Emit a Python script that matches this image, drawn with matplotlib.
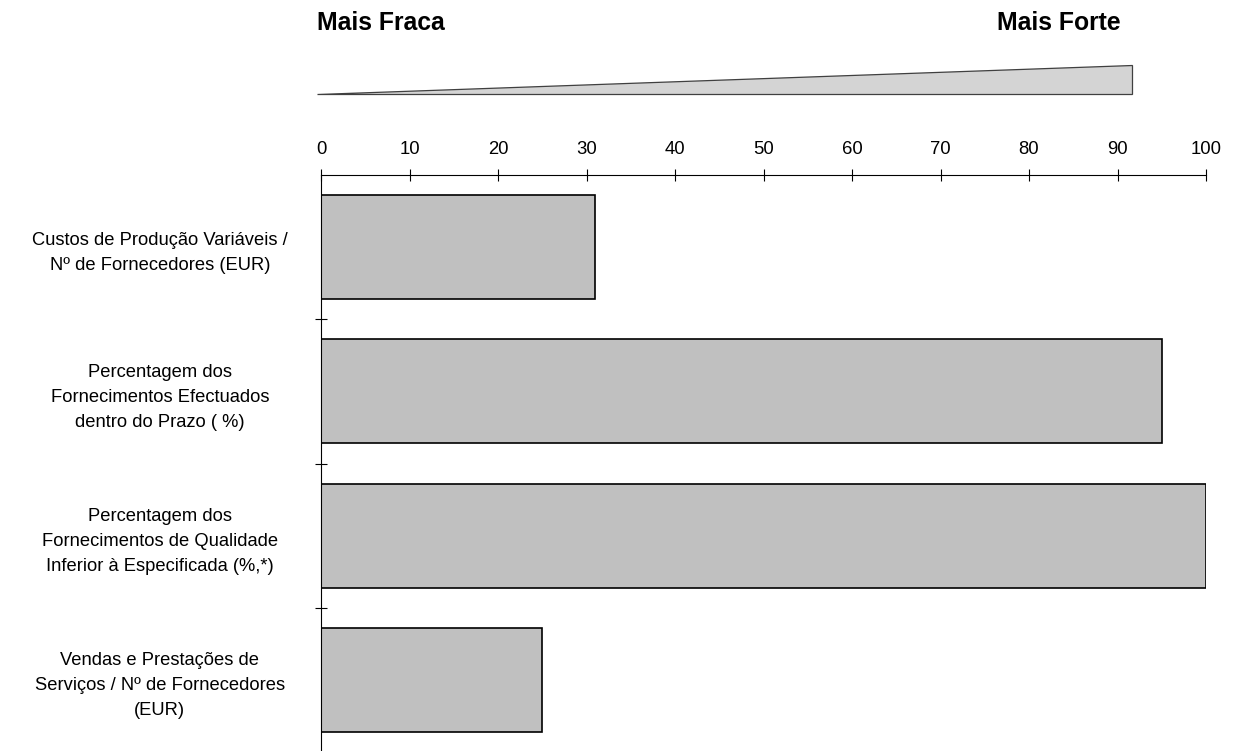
import matplotlib
matplotlib.use("Agg")
from matplotlib import pyplot as plt
from matplotlib.patches import Polygon
from matplotlib.transforms import blended_transform_factory

plt.rcParams['font.family'] = ['Liberation Sans', 'DejaVu Sans']

categorias = [
    "Custos de Produção Variáveis /\nNº de Fornecedores (EUR)",
    "Percentagem dos\nFornecimentos Efectuados\ndentro do Prazo ( %)",
    "Percentagem dos\nFornecimentos de Qualidade\nInferior à Especificada (%,*)",
    "Vendas e Prestações de\nServiços / Nº de Fornecedores\n(EUR)",
]
valores = [31, 95, 100, 25]
ticks_x = [0, 10, 20, 30, 40, 50, 60, 70, 80, 90, 100]

# escala "fraca -> forte" (cunha por cima do eixo)
escala_inicio = -0.5
escala_fim = 91.6

fig = plt.figure(figsize=(12.34, 7.51), dpi=100)
ax = fig.add_axes([321 / 1234, -1 / 751, 885 / 1234, 577 / 751])

posicoes = list(range(1, len(valores) + 1))
ax.barh(posicoes, valores, height=0.72, color="#c0c0c0",
        edgecolor="black", linewidth=1.2)

ax.set_xlim(0, 100)
ax.set_ylim(len(valores) + 0.5, 0.5)

# eixo x em cima
ax.xaxis.set_ticks_position("top")
ax.set_xticks(ticks_x)
ax.set_xticklabels([str(t) for t in ticks_x], fontsize=13.3)
ax.tick_params(axis="x", direction="inout", length=9, width=0.8, pad=8)

# rótulos das categorias centrados à esquerda, ticks nas fronteiras
ax.set_yticks(posicoes)
ax.set_yticklabels(categorias, fontsize=13.2, ha="center", linespacing=1.62)
ax.tick_params(axis="y", which="major", length=0, pad=116)
ax.set_yticks([p + 0.5 for p in posicoes[:-1]], minor=True)
ax.tick_params(axis="y", which="minor", direction="inout", length=9, width=0.8)

for lado in ["right", "bottom"]:
    ax.spines[lado].set_visible(False)
ax.spines["left"].set_linewidth(0.8)
ax.spines["top"].set_linewidth(0.8)

# cunha
trans = blended_transform_factory(ax.transData, fig.transFigure)
y_base = 1 - 94 / 751
y_topo = 1 - 65 / 751
cunha = Polygon([(escala_inicio, y_base), (escala_fim, y_base), (escala_fim, y_topo)],
                closed=True, transform=trans, facecolor="#d4d4d4",
                edgecolor="#404040", linewidth=0.9, clip_on=False)
fig.patches.append(cunha)

fig.text(317 / 1234, 1 - 30 / 751, "Mais Fraca", fontsize=17.8,
         fontweight="bold", ha="left", va="baseline")
fig.text(1121 / 1234, 1 - 30 / 751, "Mais Forte", fontsize=17.8,
         fontweight="bold", ha="right", va="baseline")

fig.savefig("out.png", dpi=100)
